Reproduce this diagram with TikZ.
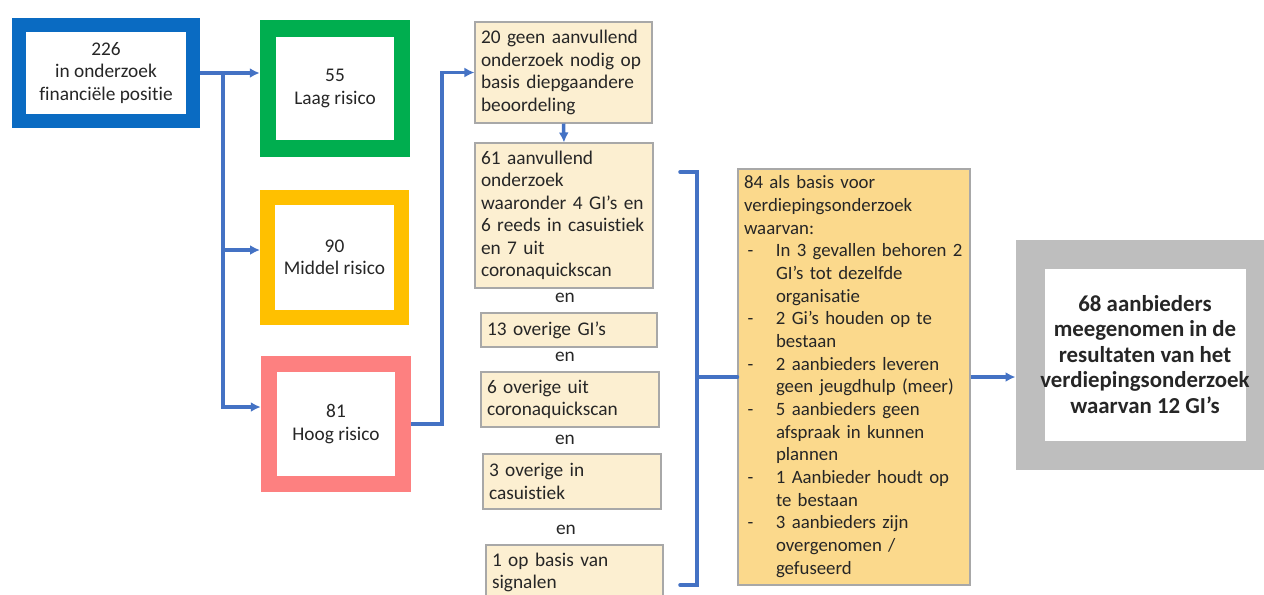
\documentclass[tikz,border=0pt]{standalone}
\usepackage{fontspec}
\setmainfont{Carlito}[Ligatures=NoCommon]
\usepackage{tikz}
\usetikzlibrary{positioning,arrows.meta}

\definecolor{frameblue}{HTML}{0A6BC2}
\definecolor{framegreen}{HTML}{00AE4F}
\definecolor{framegold}{HTML}{FFC000}
\definecolor{framered}{HTML}{FD8080}
\definecolor{framegray}{HTML}{BEBEBE}
\definecolor{linkblue}{HTML}{4472C4}
\definecolor{boxgray}{HTML}{A8A8A8}
\definecolor{tanfill}{HTML}{FCEFD1}
\definecolor{goldfill}{HTML}{FBD98C}

\begin{document}
\begin{tikzpicture}[>={Latex[length=2mm,width=2mm]},
  every node/.style={font=\fontsize{11}{12.8}\selectfont, text=black!85},
  frame/.style={draw=#1, line width=0.33cm, fill=white, minimum width=2.68cm,
    minimum height=2.4cm, align=center, inner sep=0pt},
  notebox/.style={draw=boxgray, fill=tanfill, line width=0.6pt, align=left,
    inner xsep=0.12cm, inner ysep=0.05cm},
  link/.style={draw=linkblue, line width=2pt, ->},
  brace/.style={draw=linkblue, line width=2pt, line cap=round}]
\useasboundingbox (0,0) rectangle (25.28,-11.88);

% risk groups
\node[frame=frameblue, line width=0.28cm, minimum width=3.48cm, minimum height=1.92cm] (fin)
  at (2.12,-1.46) {226\\in onderzoek\\financiële positie};
\node[frame=framegreen] (laag) at (6.70,-1.77) {55\\Laag risico};
\node[frame=framegold, line width=0.30cm] (middel) at (6.69,-5.15) {90\\Middel risico};
\node[frame=framered] (hoog) at (6.72,-8.48) {81\\Hoog risico};

\coordinate (split) at ([xshift=0.46cm]fin.east);
\draw[link] (fin.east) -- (fin.east -| laag.west);
\draw[link] (split) |- ([yshift=0.34cm]hoog.west);
\draw[link] ([yshift=0.15cm]middel.west -| split) -- ([yshift=0.15cm]middel.west);

% high risk split up
\node[notebox, text width=3.30cm, minimum height=2.02cm] (geen) at (11.27,-1.45)
  {20 geen aanvullend\\onderzoek nodig op\\basis diepgaandere\\beoordeling};
\node[notebox, text width=3.32cm, minimum height=2.9cm] (extra) at (11.28,-4.31)
  {61 aanvullend\\onderzoek\\waaronder 4 GI’s en\\6 reeds in casuistiek\\en 7 uit\\coronaquickscan};
\node (en1) at (11.30,-5.96) {en};
\node[notebox, text width=3.28cm, minimum height=0.68cm] (gi) at (11.38,-6.60) {13 overige GI’s};
\node (en2) at (11.30,-7.14) {en};
\node[notebox, text width=3.32cm, minimum height=1.1cm] (corona) at (11.40,-7.99)
  {6 overige uit\\coronaquickscan};
\node (en3) at (11.30,-8.80) {en};
\node[notebox, text width=3.32cm, minimum height=1.1cm] (casus) at (11.44,-9.63)
  {3 overige in\\casuistiek};
\node (en4) at (11.32,-10.60) {en};
\node[notebox, text width=3.30cm, minimum height=1.1cm] (signaal) at (11.49,-11.45)
  {1 op basis van\\signalen};

\draw[link] (hoog.east) -- ++(0.62,0) |- (geen.west);
\draw[link] (geen.south) -- (extra.north);

% bracket
\coordinate (brtop) at (13.60,-3.44);
\coordinate (brbot) at (13.60,-11.70);
\coordinate (brmid) at (13.94,-7.54);
\draw[brace] (brtop) -- ++(0.34,0) |- (brbot);

\node[notebox, fill=goldfill, text width=4.40cm, minimum height=8.32cm, inner ysep=0.02cm,
  font=\fontsize{10.7}{12.9}\selectfont] (basis) at (17.08,-7.54)
  {\begin{tabular}{@{}p{0.64cm}@{}l@{}}
   \multicolumn{2}{@{}l@{}}{84 als basis voor}\\
   \multicolumn{2}{@{}l@{}}{verdiepingsonderzoek}\\
   \multicolumn{2}{@{}l@{}}{waarvan:}\\
   \hspace*{2pt}- & In 3 gevallen behoren 2\\
    & GI’s tot dezelfde\\
    & organisatie\\
   \hspace*{2pt}- & 2 Gi’s houden op te\\
    & bestaan\\
   \hspace*{2pt}- & 2 aanbieders leveren\\
    & geen jeugdhulp (meer)\\
   \hspace*{2pt}- & 5 aanbieders geen\\
    & afspraak in kunnen\\
    & plannen\\
   \hspace*{2pt}- & 1 Aanbieder houdt op\\
    & te bestaan\\
   \hspace*{2pt}- & 3 aanbieders zijn\\
    & overgenomen /\\
    & gefuseerd
   \end{tabular}};
\draw[brace] (brmid) -- (basis.west);

% result
\node[frame=framegray, line width=0.58cm, minimum width=4.6cm, minimum height=4.02cm,
  font=\bfseries\fontsize{13}{14.5}\selectfont] (result) at (22.90,-7.09)
  {68 aanbieders\\meegenomen in de\\resultaten van het\\verdiepingsonderzoek\\waarvan 12 GI’s};
\draw[link] (basis.east) -- (basis.east -| result.west);
\end{tikzpicture}
\end{document}
